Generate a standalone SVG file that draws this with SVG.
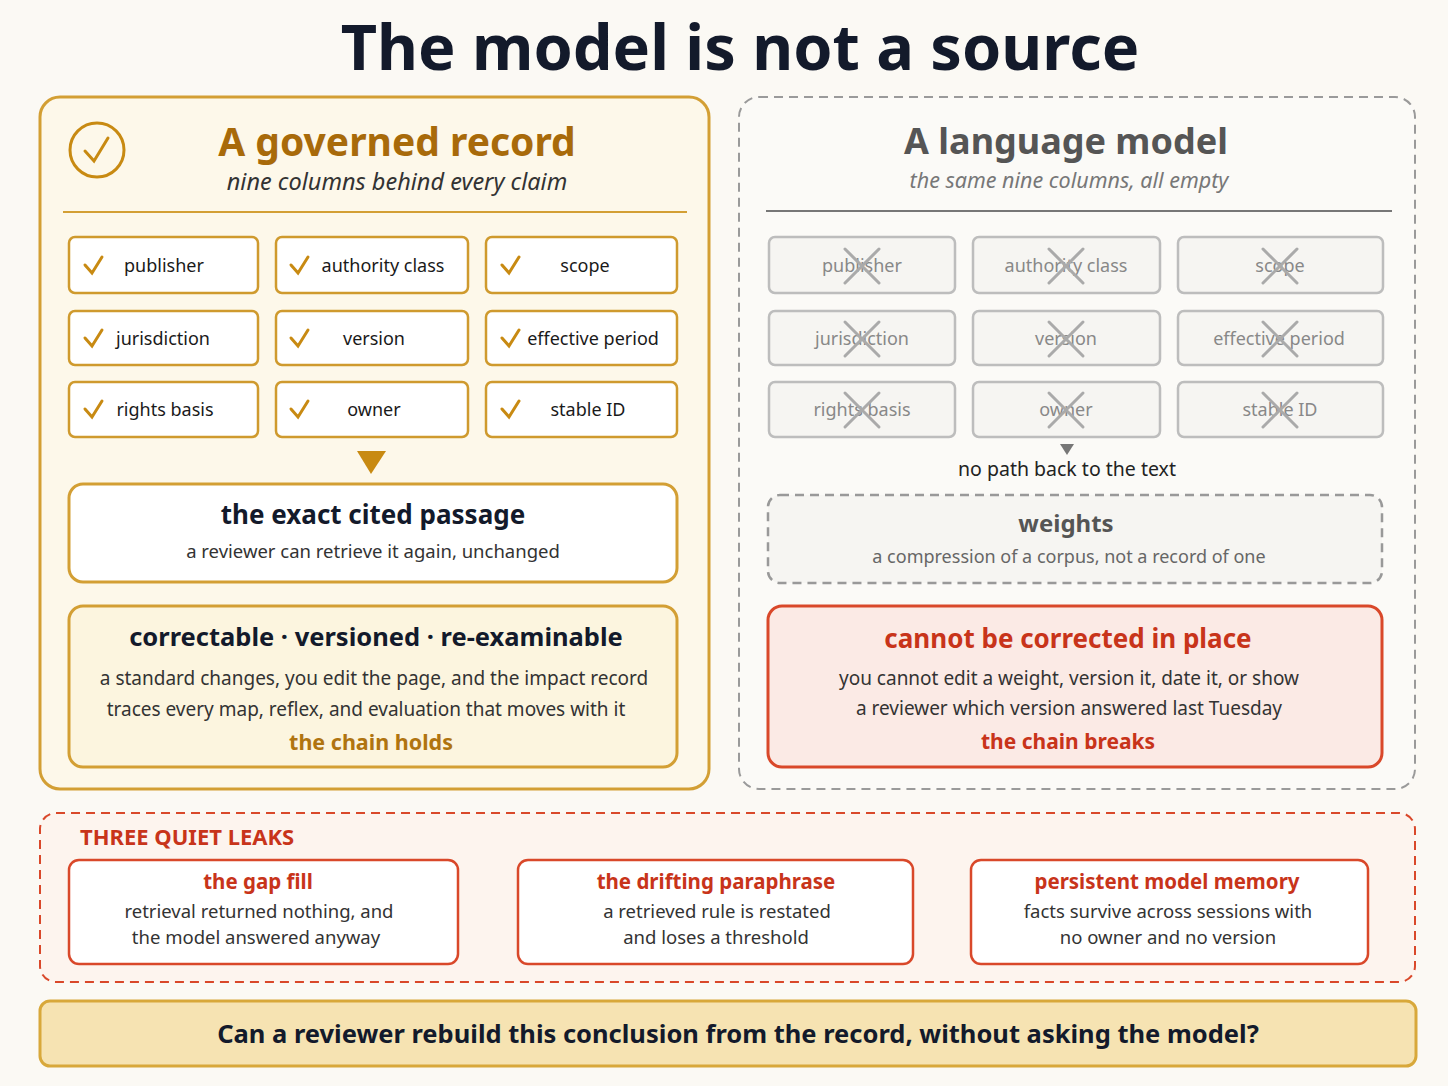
<svg xmlns="http://www.w3.org/2000/svg" width="1448" height="1086" viewBox="0 0 1448 1086">
<style>
text{font-family:"Noto Sans","Open Sans",sans-serif;}
.gc{fill:#fff;stroke:#cf9a2e;stroke-width:2.5;}
.gt{font-size:18px;fill:#1a1a1a;text-anchor:middle;}
.ck{fill:none;stroke:#c88a12;stroke-width:3;stroke-linecap:round;}
.ec{fill:#f6f5f2;stroke:#bdbdbd;stroke-width:2.5;}
.et{font-size:18px;fill:#888;text-anchor:middle;}
.x{stroke:#aaa;stroke-width:3;stroke-linecap:round;}
.lk{fill:#fff;stroke:#d9482a;stroke-width:2.5;}
.lh{font-size:20.5px;font-weight:bold;fill:#c8341a;text-anchor:middle;}
.ls{font-size:18.5px;fill:#333;text-anchor:middle;}
</style>
<rect width="1448" height="1086" fill="#fbf9f4"/>
<text x="740" y="70" font-size="63" font-weight="bold" fill="#131a2b" text-anchor="middle">The model is not a source</text>

<g id="governed">
<rect x="40" y="97" width="669" height="692" rx="20" fill="#fdf8ea" stroke="#d39f34" stroke-width="3"/>
<circle cx="97" cy="150" r="27" fill="none" stroke="#c88a12" stroke-width="3"/>
<path d="M85 151 L94 161 L108 138" class="ck"/>
<text x="397" y="156" font-size="39" font-weight="bold" fill="#a86a0a" text-anchor="middle">A governed record</text>
<text x="397" y="190" font-size="23.5" font-style="italic" fill="#333" text-anchor="middle">nine columns behind every claim</text>
<line x1="63" y1="212" x2="687" y2="212" stroke="#d39f34" stroke-width="2"/>
</g>
<g id="g-cells">
<rect class="gc" x="69" y="237" width="189" height="56" rx="6"/><path class="ck" d="M85 265 L92 273 L102 257"/><text class="gt" x="164" y="272">publisher</text>
<rect class="gc" x="276" y="237" width="192" height="56" rx="6"/><path class="ck" d="M291 265 L298 273 L308 257"/><text class="gt" x="383" y="272">authority class</text>
<rect class="gc" x="486" y="237" width="191" height="56" rx="6"/><path class="ck" d="M502 265 L509 273 L519 257"/><text class="gt" x="585" y="272">scope</text>
<rect class="gc" x="69" y="311" width="189" height="54" rx="6"/><path class="ck" d="M85 338 L92 346 L102 330"/><text class="gt" x="163" y="345">jurisdiction</text>
<rect class="gc" x="276" y="311" width="192" height="54" rx="6"/><path class="ck" d="M291 338 L298 346 L308 330"/><text class="gt" x="374" y="345">version</text>
<rect class="gc" x="486" y="311" width="191" height="54" rx="6"/><path class="ck" d="M502 338 L509 346 L519 330"/><text class="gt" x="593" y="345">effective period</text>
<rect class="gc" x="69" y="382" width="189" height="55" rx="6"/><path class="ck" d="M85 409 L92 417 L102 401"/><text class="gt" x="165" y="416">rights basis</text>
<rect class="gc" x="276" y="382" width="192" height="55" rx="6"/><path class="ck" d="M291 409 L298 417 L308 401"/><text class="gt" x="374" y="416">owner</text>
<rect class="gc" x="486" y="382" width="191" height="55" rx="6"/><path class="ck" d="M502 409 L509 417 L519 401"/><text class="gt" x="588" y="416">stable ID</text>
</g>
<g id="passage">
<rect x="69" y="484" width="608" height="98" rx="14" fill="#fff" stroke="#d39f34" stroke-width="3"/>
<text x="373" y="524" font-size="26" font-weight="bold" fill="#131a2b" text-anchor="middle">the exact cited passage</text>
<text x="373" y="558" font-size="18.5" fill="#333" text-anchor="middle">a reviewer can retrieve it again, unchanged</text>
</g>
<g id="holds">
<rect x="69" y="606" width="608" height="161" rx="14" fill="#fcf5df" stroke="#d39f34" stroke-width="3"/>
<text x="376" y="646" font-size="25.5" font-weight="bold" fill="#131a2b" text-anchor="middle">correctable · versioned · re-examinable</text>
<text x="374" y="685" font-size="19" fill="#333" text-anchor="middle">a standard changes, you edit the page, and the impact record</text>
<text x="366" y="716" font-size="19" fill="#333" text-anchor="middle">traces every map, reflex, and evaluation that moves with it</text>
<text x="371" y="750" font-size="21.5" font-weight="bold" fill="#b07410" text-anchor="middle">the chain holds</text>
</g>

<g id="language">
<rect x="739" y="97" width="676" height="692" rx="20" fill="#fbfaf7" stroke="#9a9a9a" stroke-width="2" stroke-dasharray="9 6"/>
<text x="1066" y="154" font-size="36" font-weight="bold" fill="#555" text-anchor="middle">A language model</text>
<text x="1069" y="188" font-size="21.5" font-style="italic" fill="#777" text-anchor="middle">the same nine columns, all empty</text>
<line x1="766" y1="211" x2="1392" y2="211" stroke="#777" stroke-width="2"/>
</g>
<g id="e-cells">
<rect class="ec" x="769" y="237" width="186" height="56" rx="6"/><text class="et" x="862" y="272">publisher</text><path class="x" d="M845 249 L879 283 M879 249 L845 283"/>
<rect class="ec" x="973" y="237" width="187" height="56" rx="6"/><text class="et" x="1066" y="272">authority class</text><path class="x" d="M1049 249 L1083 283 M1083 249 L1049 283"/>
<rect class="ec" x="1178" y="237" width="205" height="56" rx="6"/><text class="et" x="1280" y="272">scope</text><path class="x" d="M1263 249 L1297 283 M1297 249 L1263 283"/>
<rect class="ec" x="769" y="311" width="186" height="54" rx="6"/><text class="et" x="862" y="345">jurisdiction</text><path class="x" d="M845 322 L879 356 M879 322 L845 356"/>
<rect class="ec" x="973" y="311" width="187" height="54" rx="6"/><text class="et" x="1066" y="345">version</text><path class="x" d="M1049 322 L1083 356 M1083 322 L1049 356"/>
<rect class="ec" x="1178" y="311" width="205" height="54" rx="6"/><text class="et" x="1279" y="345">effective period</text><path class="x" d="M1263 322 L1297 356 M1297 322 L1263 356"/>
<rect class="ec" x="769" y="382" width="186" height="55" rx="6"/><text class="et" x="862" y="416">rights basis</text><path class="x" d="M845 393 L879 427 M879 393 L845 427"/>
<rect class="ec" x="973" y="382" width="187" height="55" rx="6"/><text class="et" x="1066" y="416">owner</text><path class="x" d="M1049 393 L1083 427 M1083 393 L1049 427"/>
<rect class="ec" x="1178" y="382" width="205" height="55" rx="6"/><text class="et" x="1280" y="416">stable ID</text><path class="x" d="M1263 393 L1297 427 M1297 393 L1263 427"/>
</g>
<text x="1067" y="476" font-size="19.5" fill="#222" text-anchor="middle">no path back to the text</text>
<g id="weights">
<rect x="768" y="495" width="614" height="88" rx="12" fill="#f6f5f2" stroke="#999" stroke-width="2.5" stroke-dasharray="9 6"/>
<text x="1066" y="532" font-size="24" font-weight="bold" fill="#555" text-anchor="middle">weights</text>
<text x="1069" y="563" font-size="18" fill="#666" text-anchor="middle">a compression of a corpus, not a record of one</text>
</g>
<g id="breaks">
<rect x="768" y="606" width="614" height="161" rx="14" fill="#fbeae5" stroke="#d9482a" stroke-width="3"/>
<text x="1068" y="648" font-size="26" font-weight="bold" fill="#c8341a" text-anchor="middle">cannot be corrected in place</text>
<text x="1069" y="685" font-size="19" fill="#333" text-anchor="middle">you cannot edit a weight, version it, date it, or show</text>
<text x="1069" y="715" font-size="19" fill="#333" text-anchor="middle">a reviewer which version answered last Tuesday</text>
<text x="1068" y="749" font-size="21" font-weight="bold" fill="#c8341a" text-anchor="middle">the chain breaks</text>
</g>

<g id="leaks">
<rect x="40" y="813" width="1375" height="169" rx="16" fill="#fdf4ee" stroke="#d9482a" stroke-width="2" stroke-dasharray="9 6"/>
<text x="80" y="845" font-size="22" font-weight="bold" fill="#c8341a">THREE QUIET LEAKS</text>
</g>
<g id="leak1"><rect class="lk" x="69" y="860" width="389" height="104" rx="10"/><text class="lh" x="258" y="889">the gap fill</text><text class="ls" x="259" y="918">retrieval returned nothing, and</text><text class="ls" x="256" y="944">the model answered anyway</text></g>
<g id="leak2"><rect class="lk" x="518" y="860" width="395" height="104" rx="10"/><text class="lh" x="716" y="889">the drifting paraphrase</text><text class="ls" x="717" y="918">a retrieved rule is restated</text><text class="ls" x="716" y="944">and loses a threshold</text></g>
<g id="leak3"><rect class="lk" x="971" y="860" width="397" height="104" rx="10"/><text class="lh" x="1167" y="889">persistent model memory</text><text class="ls" x="1168" y="918">facts survive across sessions with</text><text class="ls" x="1168" y="944">no owner and no version</text></g>

<g id="question">
<rect x="40" y="1001" width="1376" height="65" rx="10" fill="#f6e3b2" stroke="#d8a83a" stroke-width="3"/>
<text x="738" y="1043" font-size="25.5" font-weight="bold" fill="#131a2b" text-anchor="middle">Can a reviewer rebuild this conclusion from the record, without asking the model?</text>
</g>
<g id="connectors">
<path d="M357 451 L386 451 L371 474 Z" fill="#c88a12"/>
<path d="M1060 444 L1074 444 L1067 455 Z" fill="#777"/>
</g>
</svg>
